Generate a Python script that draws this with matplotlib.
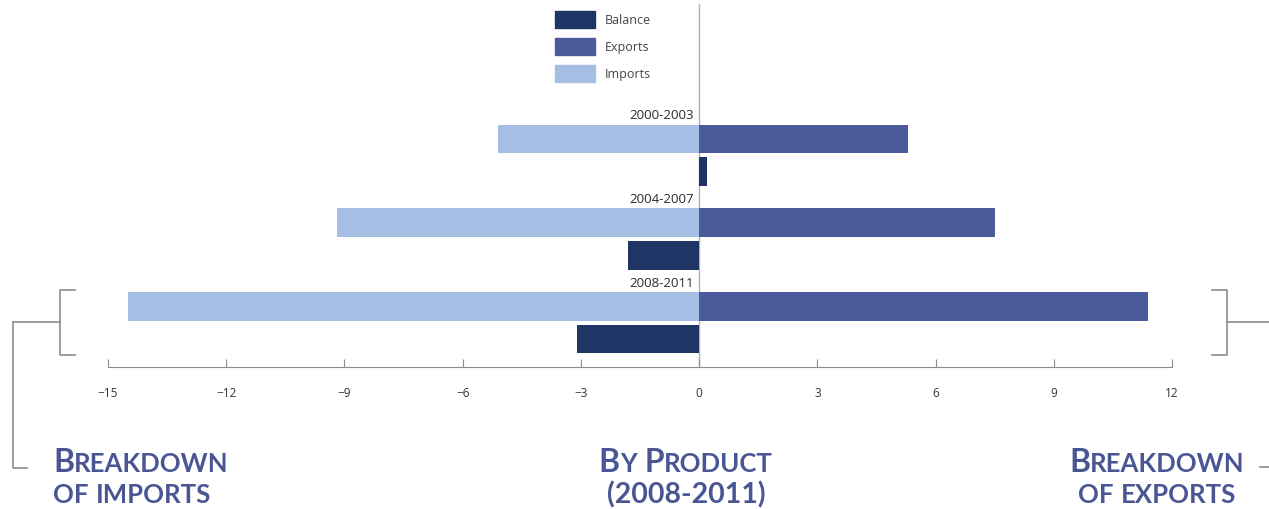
#!/usr/bin/env python3

import numpy as np
import matplotlib
matplotlib.use("Agg")
import matplotlib.pyplot as plt
from matplotlib.lines import Line2D
from matplotlib.patches import Patch

periods = ["2000-2003", "2004-2007", "2008-2011"]
imports = [-5.1, -9.2, -14.5]
exports = [5.3, 7.5, 11.4]
balance = [0.2, -1.8, -3.1]
x_ticks = [-15, -12, -9, -6, -3, 0, 3, 6, 9, 12]

titles_left = ["Breakdown", "of imports"]
titles_mid = ["By Product", "(2008-2011)"]
titles_right = ["Breakdown", "of exports"]

c_bal = "#1f3566"
c_exp = "#4b5a9b"
c_imp = "#a5bee3"
c_title = "#4a5694"
c_line = "#8c8c8c"

W, H = 1269, 510
fig = plt.figure(figsize=(W / 100, H / 100), dpi=100)
ax = fig.add_axes([108 / W, 1 - 368 / H, (1172 - 108) / W, (368 - 5) / H])

y = np.arange(len(periods))
ax.axvline(0, color="#b0b0b0", lw=1, zorder=0)
ax.barh(y, imports, height=0.34, color=c_imp, zorder=2)
ax.barh(y, exports, height=0.34, color=c_exp, zorder=2)
ax.barh(y + 0.39, balance, height=0.345, color=c_bal, zorder=2)

for i, p in enumerate(periods):
    ax.annotate(p, (0, i - 0.29), xytext=(-4, 0), textcoords="offset points",
                ha="right", va="center", fontsize=9.5, color="#2a2a2a",
                family="Open Sans")

ax.set_xlim(-15, 12)
ax.set_ylim(2.724, -1.613)
ax.set_xticks(x_ticks)
ax.set_yticks([])
for s in ["top", "left", "right"]:
    ax.spines[s].set_visible(False)
ax.spines["bottom"].set_color(c_line)
ax.tick_params(axis="x", direction="in", length=6, pad=14, color=c_line,
               labelcolor="#333333", labelsize=8.5)
for t in ax.get_xticklabels():
    t.set_family("Open Sans")

handles = [Patch(color=c_bal, label="Balance"),
           Patch(color=c_exp, label="Exports"),
           Patch(color=c_imp, label="Imports")]
fig.legend(handles=handles, loc="upper left", bbox_to_anchor=(555 / W, 1 - 12 / H),
           bbox_transform=fig.transFigure, frameon=False, borderpad=0,
           borderaxespad=0, handlelength=3.2, handleheight=1.7,
           labelspacing=0.8, handletextpad=0.75,
           prop={"family": "Open Sans", "size": 9})
for t in fig.legends[0].get_texts():
    t.set_color("#444444")


# brackets
def line(xs, ys):
    fig.add_artist(Line2D([v / W for v in xs], [1 - v / H for v in ys],
                          transform=fig.transFigure, color=c_line, lw=1.2))

line([75, 60, 60, 75], [291, 291, 356, 356])
line([60, 13], [323, 323])
line([13, 13, 27], [323, 469, 469])
line([1212, 1227, 1227, 1212], [291, 291, 356, 356])
line([1227, 1269], [323, 323])
line([1260, 1269], [468, 468])

# small caps titles
renderer = fig.canvas.get_renderer()
big, small, other = 23, 18.5, 20.5


def chunks(s):
    out = []
    for ch in s:
        if ch.islower():
            size = small
        elif ch.isupper() or ch == " ":
            size = big
        else:
            size = other
        if out and out[-1][1] == size:
            out[-1][0] += ch.upper()
        else:
            out.append([ch.upper(), size])
    return out


def smallcaps(s, x, base, ha):
    parts = []
    for txt, size in chunks(s):
        t = fig.text(0, 1 - base / H, txt, fontsize=size, fontweight="bold",
                     family="Lato", color=c_title, va="baseline", ha="left")
        parts.append(t)
    widths = [t.get_window_extent(renderer).width for t in parts]
    total = sum(widths)
    start = {"left": x, "center": x - total / 2, "right": x - total}[ha]
    for t, w in zip(parts, widths):
        t.set_x(start / W)
        start += w

for i, base in enumerate([472, 503]):
    smallcaps(titles_left[i], 53, base, "left")
    smallcaps(titles_mid[i], 686, base, "center")
    smallcaps(titles_right[i], 1157, base, "center")

fig.savefig("out.png", dpi=100)
